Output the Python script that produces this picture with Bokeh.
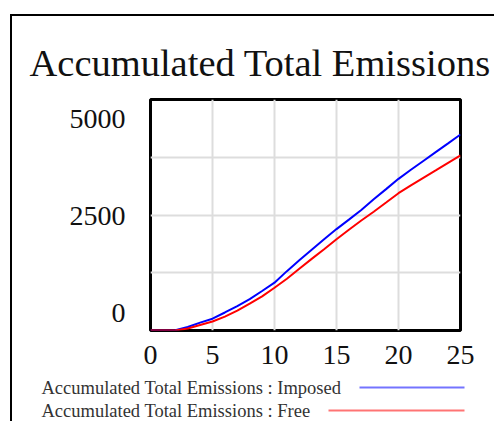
from bokeh.plotting import figure
from bokeh.layouts import column
from bokeh.models import Range1d, LinearAxis, FixedTicker, Label, BoxAnnotation
from bokeh.embed import file_html
from bokeh.resources import INLINE

# ---- data ----
time = list(range(26))
imposed = [0, 0, 5, 75, 170, 255, 390, 530, 680, 855, 1035, 1285, 1520, 1750, 1975,
           2195, 2400, 2610, 2840, 3060, 3283, 3480, 3670, 3860, 4050, 4243]
free = [0, 0, 0, 45, 120, 195, 300, 430, 580, 740, 925, 1120, 1335, 1550, 1760,
        1975, 2180, 2380, 2570, 2770, 2972, 3140, 3305, 3465, 3630, 3790]
x_ticks = [0, 5, 10, 15, 20, 25]
x_grid = [5, 10, 15, 20]
y_grid = [1250, 2500, 3750]
y_label_pos = [370, 2470, 4570]
y_label_text = ["0", "2500", "5000"]
title_text = "Accumulated Total Emissions"
legend_labels = ["Accumulated Total Emissions : Imposed", "Accumulated Total Emissions : Free"]
series_colors = ["#0000ff", "#ff0000"]
legend_colors = ["#7474ff", "#ff7474"]

FONT = "Liberation Serif"
W = 482

p = figure(width=W, height=358, output_backend="svg", toolbar_location=None,
           x_range=Range1d(0, 25), y_range=Range1d(0, 5000),
           y_axis_location=None, frame_align=False,
           min_border_left=138, min_border_right=34, min_border_top=83, min_border_bottom=44)
p.background_fill_color = "white"
p.border_fill_color = "white"
p.outline_line_color = "black"
p.outline_line_width = 3

# title
p.title.text = title_text
p.title.text_font = FONT
p.title.text_font_size = "38.5px"
p.title.text_font_style = "normal"
p.title.text_color = "#111111"
p.title.align = "left"
p.title.offset = -121
p.title.standoff = 32

# x axis
xa = p.xaxis[0]
xa.ticker = FixedTicker(ticks=x_ticks)
xa.axis_line_color = None
xa.major_tick_line_color = None
xa.minor_tick_line_color = None
xa.major_label_text_font = FONT
xa.major_label_text_font_size = "28px"
xa.major_label_text_color = "#111111"
xa.major_label_standoff = 9
p.xgrid.ticker = FixedTicker(ticks=x_grid)
p.xgrid.grid_line_color = "#dddddd"
p.xgrid.grid_line_width = 2
p.ygrid.ticker = FixedTicker(ticks=y_grid)
p.ygrid.grid_line_color = "#dddddd"
p.ygrid.grid_line_width = 2

# y axis (labels placed Vensim-style, inset at the ends)
ya = LinearAxis(ticker=FixedTicker(ticks=y_label_pos),
                major_label_overrides={k: v for k, v in zip(y_label_pos, y_label_text)})
ya.axis_line_color = None
ya.major_tick_line_color = None
ya.minor_tick_line_color = None
ya.major_label_text_font = FONT
ya.major_label_text_font_size = "28px"
ya.major_label_text_color = "#111111"
ya.major_label_standoff = 19
p.add_layout(ya, "left")

# series
p.line(time, imposed, line_color=series_colors[0], line_width=2)
p.line(time, free, line_color=series_colors[1], line_width=2)

# legend strip: text then swatch, as in the reference
leg = figure(width=W, height=47, output_backend="svg", toolbar_location=None,
             x_range=Range1d(0, 1), y_range=Range1d(0, 1),
             x_axis_location=None, y_axis_location=None, frame_align=False,
             min_border=0, min_border_left=0, min_border_right=0,
             min_border_top=0, min_border_bottom=0)
leg.outline_line_color = None
leg.grid.visible = False
leg.background_fill_color = "white"
leg.border_fill_color = "white"

rows_y = [13, 36]
swatch_left = [347, 316]
for lab, col, yy, sl in zip(legend_labels, legend_colors, rows_y, swatch_left):
    leg.add_layout(Label(x=29, y=yy, x_units="canvas", y_units="canvas", text=lab,
                         text_font=FONT, text_font_size="18.5px", text_color="#333333",
                         text_baseline="middle", text_align="left"))
    leg.add_layout(BoxAnnotation(left=sl, right=452, top=yy - 1, bottom=yy + 1,
                                 left_units="canvas", right_units="canvas",
                                 top_units="canvas", bottom_units="canvas",
                                 fill_color=col, fill_alpha=1, line_alpha=0))

layout = column(p, leg, spacing=0, margin=(14, 0, 0, 10),
                styles={"border-left": "2px solid black", "border-top": "2px solid black"})

open("out.html", "w").write(file_html(layout, INLINE))
